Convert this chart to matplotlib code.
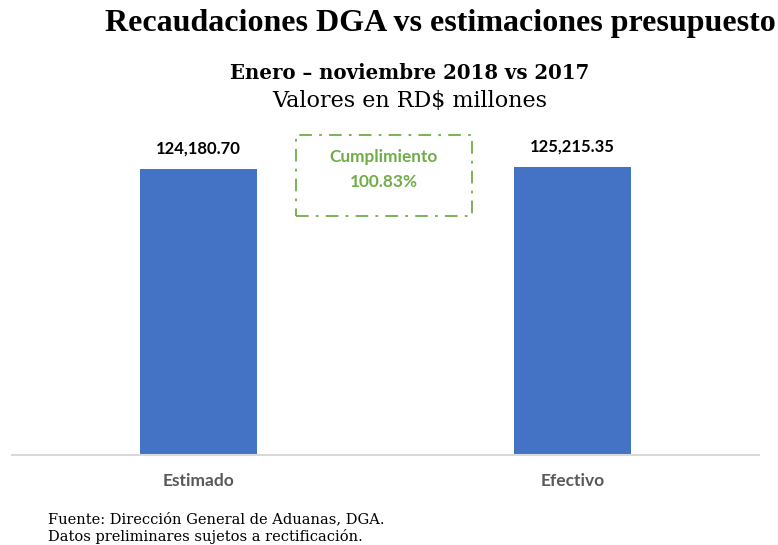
import matplotlib
matplotlib.use("Agg")
from matplotlib import pyplot as plt
from matplotlib.patches import Rectangle

categories = ["Estimado", "Efectivo"]
values = [124180.70, 125215.35]
value_labels = ["124,180.70", "125,215.35"]
cumplimiento = "100.83%"

bar_color = "#4472C4"
green = "#70AD47"
label_font = ["Lato", "DejaVu Sans"]
serif = ["Liberation Serif", "DejaVu Serif"]
school = ["DejaVu Serif"]

fig = plt.figure(figsize=(7.78, 5.45), dpi=100)
fig.patch.set_facecolor("white")
ax = fig.add_axes([12 / 778, 1 - 455 / 545, 747 / 778, 322 / 545])

x = range(len(categories))
bars = ax.bar(x, values, width=0.313, color=bar_color, zorder=2)
ax.set_xlim(-0.5, 1.5)
ax.set_ylim(0, 140000)
ax.bar_label(bars, labels=value_labels, padding=9, fontsize=12,
             fontweight="bold", family=label_font, color="#000000")

ax.set_yticks([])
ax.set_xticks(list(x))
ax.set_xticklabels(categories, fontsize=12.5, fontweight="bold",
                   family=label_font, color="#595959")
ax.tick_params(axis="x", length=0, pad=13)
for side in ["top", "right", "left"]:
    ax.spines[side].set_visible(False)
ax.spines["bottom"].set_color("#D9D9D9")
ax.spines["bottom"].set_linewidth(1.5)

# titles
fig.text(440 / 778, 1 - 23 / 545, "Recaudaciones DGA vs estimaciones presupuesto",
         ha="center", va="center", fontsize=23, fontweight="bold", family=serif)
fig.text(410 / 778, 1 - 73 / 545, "Enero \u2013 noviembre 2018 vs 2017",
         ha="center", va="center", fontsize=14.2, fontweight="bold", family=school)
fig.text(410 / 778, 1 - 101 / 545, "Valores en RD$ millones",
         ha="center", va="center", fontsize=16, family=school)

# cumplimiento box
box = Rectangle((296 / 778, 1 - 216 / 545), 176 / 778, 81 / 545,
                transform=fig.transFigure, fill=False, edgecolor=green,
                linewidth=1.3, linestyle=(0, (7, 4, 1.5, 4)))
fig.add_artist(box)
fig.text(384 / 778, 1 - 157 / 545, "Cumplimiento", ha="center", va="center",
         fontsize=12.4, fontweight="bold", family=label_font, color=green)
fig.text(384 / 778, 1 - 182 / 545, cumplimiento, ha="center", va="center",
         fontsize=12.4, fontweight="bold", family=label_font, color=green)

# footer
fig.text(48 / 778, 1 - 519 / 545, "Fuente: Direcci\u00f3n General de Aduanas, DGA.",
         ha="left", va="center", fontsize=10.5, family=school)
fig.text(48 / 778, 1 - 537 / 545, "Datos preliminares sujetos a rectificaci\u00f3n.",
         ha="left", va="center", fontsize=10.5, family=school)

fig.savefig("out.png", dpi=100)
